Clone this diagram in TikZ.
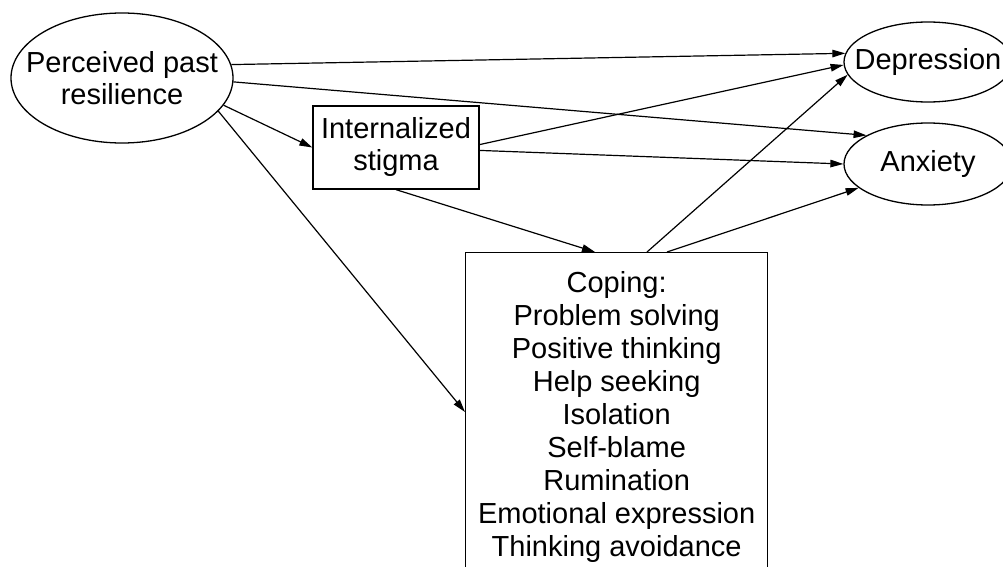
\documentclass[tikz,border=0pt]{standalone}
\usepackage{fontspec}
\setmainfont{Liberation Sans}
\usetikzlibrary{arrows.meta,shapes.geometric}
\begin{document}
\begin{tikzpicture}[x=1pt,y=1pt,
  line width=1.3pt,
  oval/.style={draw, ellipse, inner sep=0pt},
  caption/.style={font=\fontsize{29}{32}\selectfont, align=center, inner sep=0pt},
  box/.style={draw, rectangle, inner sep=0pt},
  link/.style={-{Triangle[length=13pt,width=7.5pt]}, line width=1.2pt}
]
\useasboundingbox (0,0) rectangle (1003,-567);
\clip (0,0) rectangle (1003,-567);

% constructs
\node[oval, minimum width=222pt, minimum height=130pt] (res) at (122,-78) {};
\node[caption] (restext) at (res) {Perceived past\\resilience};

\node[box, minimum width=166pt, minimum height=83pt] (int) at (396,-147.5) {};
\node[caption] (inttext) at (int) {Internalized\\stigma};

\node[oval, minimum width=168pt, minimum height=80pt] (dep) at (928,-62) {};
\node[caption] (deptext) at (dep) {Depression};

\node[oval, minimum width=168pt, minimum height=82pt] (anx) at (928,-164) {};
\node[caption] (anxtext) at (anx) {Anxiety};

\node[draw, anchor=north west, minimum width=302pt, inner xsep=0pt, inner ysep=18.5pt,
      font=\fontsize{29}{33.1}\selectfont, align=center] (cop) at (465,-252)
  {Coping:\\Problem solving\\Positive thinking\\Help seeking\\Isolation\\Self-blame\\Rumination\\Emotional expression\\Thinking avoidance};

% paths
\draw[link] (res.7) -- (dep.174);
\draw[link] (res.-2) -- (anx.155);
\draw[link] (res.-15) -- (int.west);
\draw[link] (res.-19) -- ([yshift=-160pt]cop.north west);
\draw[link] (int.2) -- (dep.182);
\draw[link] (int.-2) -- (anx.180);
\draw[link] (int.south) -- ([xshift=130pt]cop.north west);
\draw[link] ([xshift=182pt]cop.north west) -- (dep.189);
\draw[link] ([xshift=202pt]cop.north west) -- (anx.199);
\end{tikzpicture}
\end{document}
